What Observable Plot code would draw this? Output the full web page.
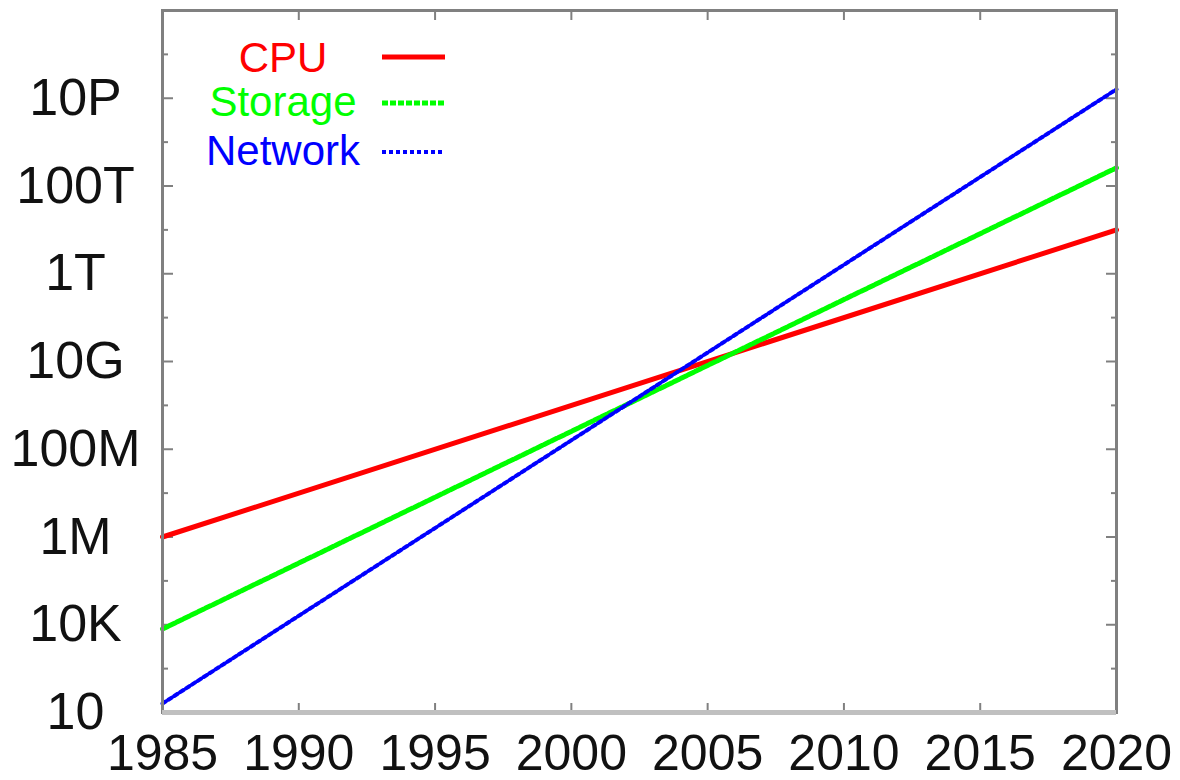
<!DOCTYPE html>
<html><head><meta charset="utf-8">
<script src="https://cdn.jsdelivr.net/npm/d3@7"></script>
<script src="https://cdn.jsdelivr.net/npm/@observablehq/plot@0.6"></script>
<style>
body{margin:0;background:#fff}
#wrap{position:relative;width:1180px;height:780px}
#legend{position:absolute;left:0;top:0}
</style>
</head><body><div id="wrap"></div>
<script>
const years = [1985, 2020];
const cpu = [1e6, 1e13];
const storage = [8e3, 2.6e14];
const network = [1.6e2, 1.6e16];
const seriesNames = ["CPU", "Storage", "Network"];
const seriesColors = ["#ff0000", "#00ff00", "#0000ff"];
const seriesDash = [null, "6,2", "4,3"];
const seriesWidth = [5, 5, 4];
const xTicks = [1985, 1990, 1995, 2000, 2005, 2010, 2015, 2020];
const yMajor = [1e2, 1e4, 1e6, 1e8, 1e10, 1e12, 1e14, 1e16];
const yLabels = ["10", "10K", "1M", "100M", "10G", "1T", "100T", "10P"];
const yMinor = [1e3, 1e5, 1e7, 1e9, 1e11, 1e13, 1e15, 1e17];

const seriesValues = [cpu, storage, network];
const rows = seriesNames.map((name, i) => years.map((yr, j) => ({series: name, year: yr, value: seriesValues[i][j]})));

const font = "Liberation Sans, Arial, Helvetica, sans-serif";
const gray = "#808080";
const blank = () => "";

const chart = Plot.plot({
  width: 1180,
  height: 780,
  marginLeft: 162,
  marginRight: 64,
  marginTop: 10,
  marginBottom: 68,
  style: {fontFamily: font, background: "#fff", color: "#000"},
  x: {domain: [1985, 2020], label: null},
  y: {type: "log", domain: [1e2, 1e18], label: null},
  marks: [
    // inward tick marks
    Plot.axisY({ticks: yMajor, tickSize: -11, tickFormat: blank, stroke: gray, strokeWidth: 2, label: null}),
    Plot.axisY({ticks: yMinor, tickSize: -6, tickFormat: blank, stroke: gray, strokeWidth: 2, label: null}),
    Plot.axisY({anchor: "right", ticks: yMajor, tickSize: -11, tickFormat: blank, stroke: gray, strokeWidth: 2, label: null}),
    Plot.axisY({anchor: "right", ticks: yMinor, tickSize: -6, tickFormat: blank, stroke: gray, strokeWidth: 2, label: null}),
    Plot.axisX({anchor: "top", ticks: xTicks, tickSize: -9, tickFormat: blank, stroke: gray, strokeWidth: 2, label: null}),
    Plot.axisX({anchor: "bottom", ticks: xTicks, tickSize: -9, tickFormat: blank, stroke: gray, strokeWidth: 2, label: null}),
    // labels
    Plot.axisY({ticks: yMajor, tickSize: 0, tickPadding: 87, textAnchor: "middle",
      tickFormat: d => yLabels[yMajor.indexOf(d)], fontSize: 52, fill: "#111", label: null}),
    Plot.axisX({ticks: xTicks, tickSize: 0, tickPadding: 22, tickFormat: d => String(d), fontSize: 50, fill: "#111", label: null}),
    // data
    ...rows.map((r, i) => Plot.line(r, {x: "year", y: "value", stroke: seriesColors[i],
      strokeWidth: seriesWidth[i], strokeDasharray: seriesDash[i] ?? undefined})),
    // frame
    Plot.frame({stroke: gray, strokeWidth: 3}),
    Plot.ruleY([1e2], {stroke: "#c0c0c0", strokeWidth: 5})
  ]
});

const wrap = document.getElementById("wrap");
wrap.appendChild(chart);

// legend overlay
const leg = d3.select(wrap).append("svg").attr("id", "legend")
  .attr("width", 500).attr("height", 180)
  .style("font-family", font);
const legY = [57, 101, 150];
seriesNames.forEach((name, i) => {
  leg.append("text").attr("x", 283).attr("y", legY[i]).attr("dy", "0.35em")
    .attr("text-anchor", "middle").attr("font-size", 42).attr("fill", seriesColors[i]).text(name);
  leg.append("line").attr("x1", 382).attr("x2", 445).attr("y1", legY[i] + (i === 0 ? 0 : 2)).attr("y2", legY[i] + (i === 0 ? 0 : 2))
    .attr("stroke", seriesColors[i]).attr("stroke-width", seriesWidth[i])
    .attr("stroke-dasharray", seriesDash[i]);
});
</script></body></html>
